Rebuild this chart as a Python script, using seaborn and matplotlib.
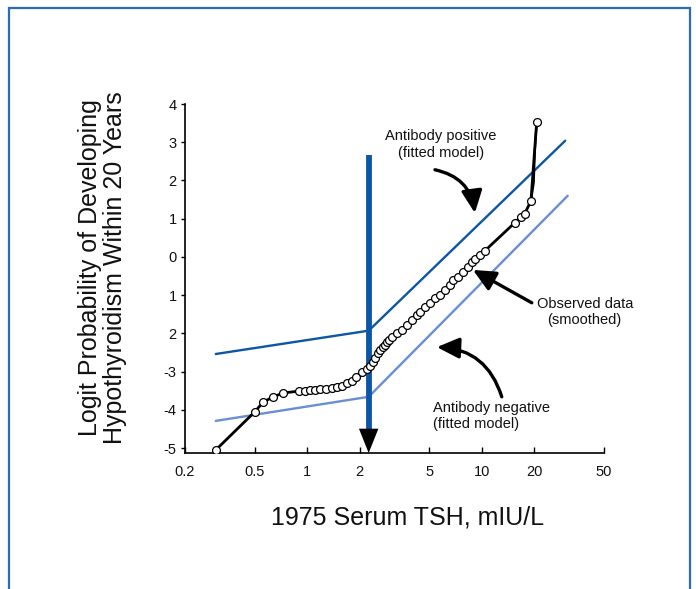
import matplotlib
matplotlib.use("Agg")
import matplotlib.pyplot as plt
from matplotlib.patches import Rectangle
from matplotlib.ticker import NullLocator, FixedLocator, FixedFormatter
import pandas as pd
import seaborn as sns

# ---- data -------------------------------------------------------------
# Smoothed observed logit by 1975 TSH (points drawn as open circles)
obs_tsh = [0.30, 0.50, 0.56, 0.64, 0.73, 0.90, 0.97, 1.04, 1.11, 1.19,
           1.28, 1.39, 1.48, 1.58, 1.69, 1.81, 1.91, 2.06, 2.20, 2.29,
           2.38, 2.45, 2.55, 2.61, 2.72, 2.79, 2.86, 2.94, 3.06, 3.27,
           3.49, 3.73, 3.98, 4.25, 4.42, 4.72, 5.04, 5.39, 5.75, 6.14,
           6.56, 6.83, 7.29, 7.79, 8.32, 8.77, 9.12, 9.74, 10.4, 15.4,
           16.7, 17.6, 19.1, 20.6]
obs_logit = [-5.05, -4.06, -3.80, -3.66, -3.56, -3.51, -3.51, -3.48, -3.48, -3.46,
             -3.46, -3.43, -3.40, -3.38, -3.30, -3.25, -3.14, -3.01, -2.93, -2.85,
             -2.75, -2.64, -2.51, -2.43, -2.36, -2.30, -2.23, -2.17, -2.09, -1.99,
             -1.91, -1.78, -1.65, -1.52, -1.44, -1.31, -1.20, -1.07, -0.99, -0.86,
             -0.73, -0.60, -0.52, -0.39, -0.26, -0.13, -0.05, 0.05, 0.16, 0.89,
             1.05, 1.13, 1.47, 3.53]
# bend of the smoothed curve between the last two circles
bend_tsh = [19.1, 19.8, 20.1, 20.6]
bend_logit = [1.47, 1.94, 2.80, 3.53]

# Fitted models (piecewise linear in log TSH, break at the threshold)
threshold_tsh = 2.25
pos_tsh = [0.30, 2.25, 30.0]
pos_logit = [-2.54, -1.93, 3.04]
neg_tsh = [0.30, 2.25, 31.0]
neg_logit = [-4.29, -3.66, 1.60]
threshold_top = 2.67

x_ticks = [0.2, 0.5, 1, 2, 5, 10, 20, 50]
x_tick_labels = ["0.2", "0.5", "1", "2", "5", "10", "20", "50"]
y_ticks = [-5, -4, -3, -2, -1, 0, 1, 2, 3, 4]
y_tick_labels = ["-5", "-4", "-3", "2", "1", "0", "1", "2", "3", "4"]

# ---- style ------------------------------------------------------------
sns.set_theme(style="white")
plt.rcParams["font.family"] = ["Liberation Sans", "DejaVu Sans"]

DARK_BLUE = "#0d56a6"
LIGHT_BLUE = "#6a8ed2"
FRAME_BLUE = "#2b6cb9"

fig = plt.figure(figsize=(6.96, 5.89), dpi=100)
fig.patch.set_facecolor("white")
ax = fig.add_axes([0.2658, 0.2309, 0.6020, 0.5925])
ax.set_xscale("log")

obs = pd.DataFrame({"tsh": obs_tsh, "logit": obs_logit})
bend = pd.DataFrame({"tsh": bend_tsh, "logit": bend_logit})
pos = pd.DataFrame({"tsh": pos_tsh, "logit": pos_logit})
neg = pd.DataFrame({"tsh": neg_tsh, "logit": neg_logit})

# fitted model lines
sns.lineplot(data=pos, x="tsh", y="logit", ax=ax, color=DARK_BLUE, lw=1.7,
             sort=False, estimator=None, zorder=2)
sns.lineplot(data=neg, x="tsh", y="logit", ax=ax, color=LIGHT_BLUE, lw=1.7,
             sort=False, estimator=None, zorder=2)

# threshold line with arrowhead
ax.plot([threshold_tsh, threshold_tsh], [threshold_top, -4.6], color=DARK_BLUE,
        lw=4.2, solid_capstyle="butt", zorder=3)
ax.annotate("", xy=(threshold_tsh, -5.13), xytext=(threshold_tsh, -4.5),
            arrowprops=dict(arrowstyle="-|>,head_length=1.25,head_width=0.5",
                            color="black", lw=0, mutation_scale=14,
                            shrinkA=0, shrinkB=0), zorder=4)

# observed smoothed curve
sns.lineplot(data=obs, x="tsh", y="logit", ax=ax, color="black", lw=2.0,
             sort=False, estimator=None, zorder=5)
sns.lineplot(data=bend, x="tsh", y="logit", ax=ax, color="black", lw=1.6,
             sort=False, estimator=None, zorder=5)
sns.scatterplot(data=obs, x="tsh", y="logit", ax=ax, s=32, facecolor="white",
                edgecolor="black", linewidth=0.9, zorder=6)

# annotations
arrow_kw = dict(arrowstyle="-|>,head_length=0.9,head_width=0.42", color="black",
                lw=2.4, mutation_scale=15, shrinkA=0, shrinkB=0)
ax.text(5.83, 2.94, "Antibody positive\n(fitted model)", ha="center", va="center",
        fontsize=10.5, color="#111111", multialignment="center")
ax.annotate("", xy=(9.12, 1.15), xytext=(5.39, 2.28),
            arrowprops=dict(connectionstyle="arc3,rad=-0.35", **arrow_kw))

ax.text(38.8, -1.44, "Observed data\n(smoothed)", ha="center", va="center",
        fontsize=10.5, color="#111111", multialignment="center")
ax.annotate("", xy=(8.89, -0.34), xytext=(19.3, -1.20),
            arrowprops=dict(connectionstyle="arc3,rad=0.0", **arrow_kw))

ax.text(5.25, -4.17, "Antibody negative\n(fitted model)", ha="left", va="center",
        fontsize=10.5, color="#111111", multialignment="left")
ax.annotate("", xy=(5.53, -2.36), xytext=(13.0, -3.66),
            arrowprops=dict(connectionstyle="arc3,rad=0.35", **arrow_kw))

# axes
ax.set_xlim(0.2, 50)
ax.set_ylim(-5.13, 4.0)
ax.xaxis.set_major_locator(FixedLocator(x_ticks))
ax.xaxis.set_major_formatter(FixedFormatter(x_tick_labels))
ax.xaxis.set_minor_locator(NullLocator())
ax.yaxis.set_major_locator(FixedLocator(y_ticks))
ax.yaxis.set_major_formatter(FixedFormatter(y_tick_labels))

for side in ("top", "right"):
    ax.spines[side].set_visible(False)
for side in ("left", "bottom"):
    ax.spines[side].set_color("black")
    ax.spines[side].set_linewidth(1.2)

ax.tick_params(axis="x", which="major", bottom=True, direction="in", length=4,
               width=1, color="black", labelsize=10.5, pad=9, labelcolor="#111111")
ax.tick_params(axis="y", which="major", left=True, direction="out", length=3,
               width=1, color="black", labelsize=10.5, pad=3, labelcolor="#111111")
ax.grid(False)

ax.set_xlabel("1975 Serum TSH, mIU/L", fontsize=18, color="#111111")
ax.xaxis.set_label_coords(0.53, -0.2063)
ax.xaxis.label.set_verticalalignment("baseline")

ax.set_ylabel("Logit Probability of Developing\nHypothyroidism Within 20 Years",
              fontsize=18, color="#111111", linespacing=1.05)
ax.yaxis.set_label_coords(-0.196, 0.530)
ax.yaxis.label.set_verticalalignment("center")

# page frame
fig.add_artist(Rectangle((9 / 696, -0.1), (690 - 9) / 696, (1 - 8 / 589) + 0.1,
                         transform=fig.transFigure, fill=False,
                         edgecolor=FRAME_BLUE, lw=1.6))

fig.savefig("out.png", dpi=100, facecolor="white")
